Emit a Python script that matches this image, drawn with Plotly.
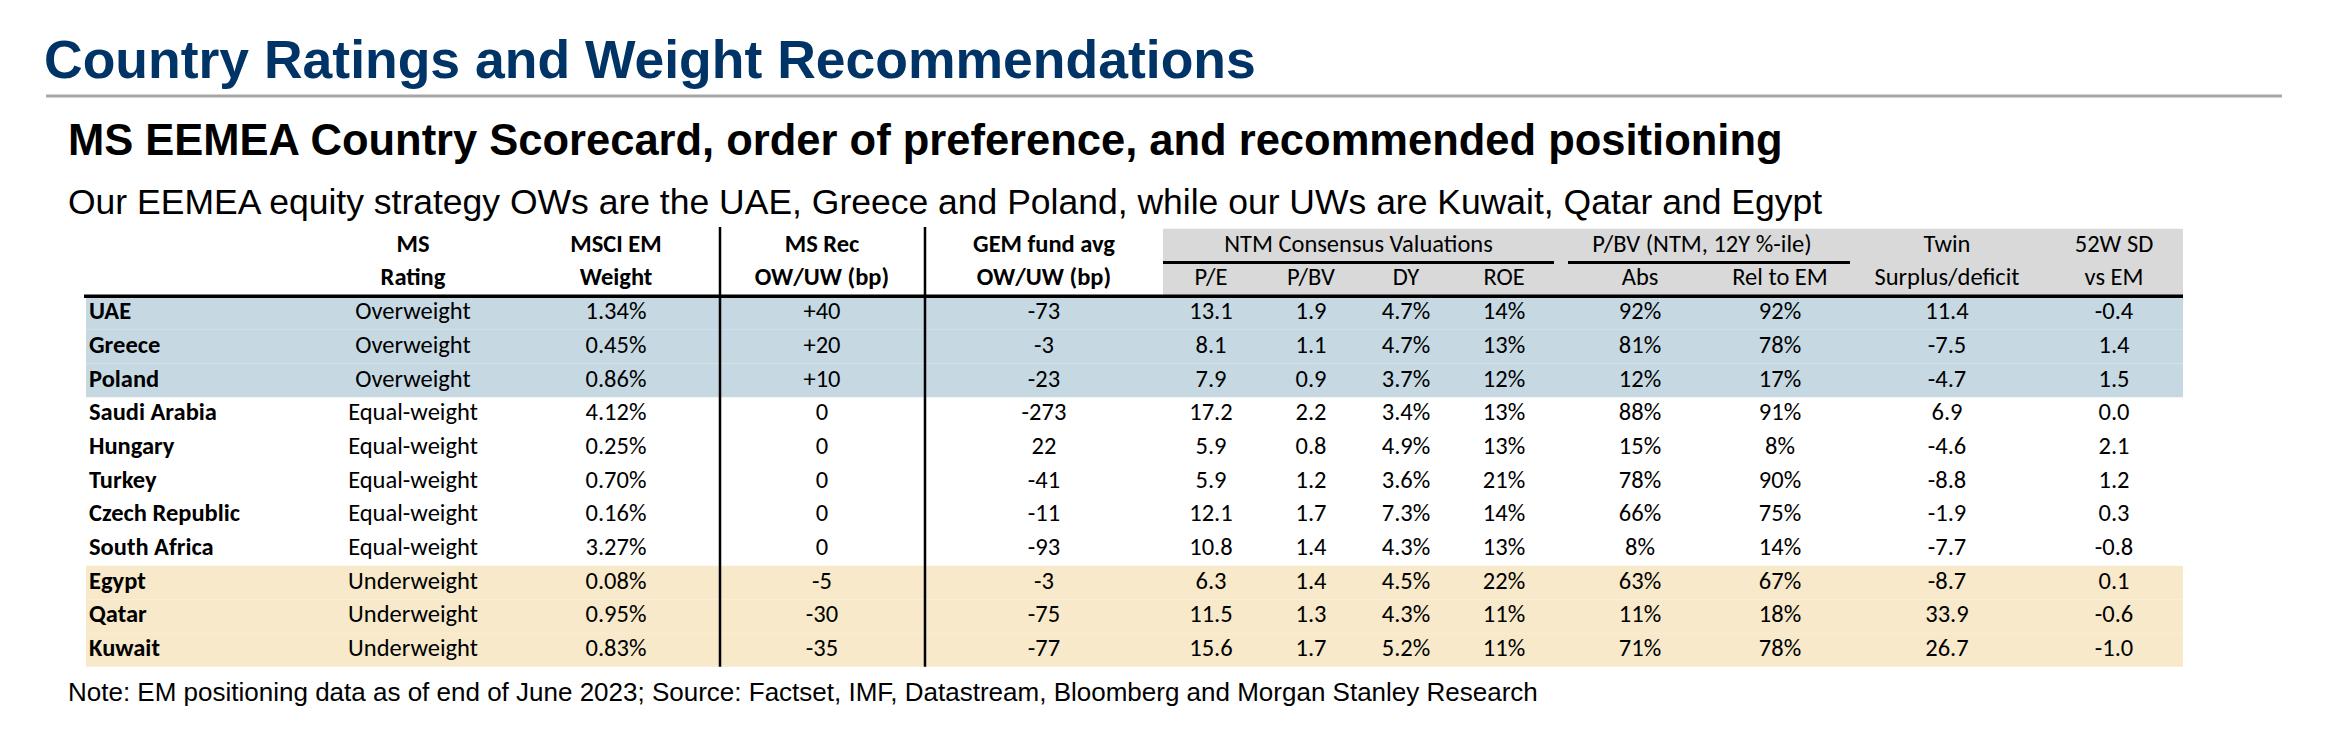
import plotly.graph_objects as go

# ---------------- data ----------------
countries = ["UAE", "Greece", "Poland", "Saudi Arabia", "Hungary", "Turkey",
             "Czech Republic", "South Africa", "Egypt", "Qatar", "Kuwait"]
ratings = ["Overweight", "Overweight", "Overweight", "Equal-weight", "Equal-weight",
           "Equal-weight", "Equal-weight", "Equal-weight", "Underweight", "Underweight",
           "Underweight"]
msci_weight = [1.34, 0.45, 0.86, 4.12, 0.25, 0.70, 0.16, 3.27, 0.08, 0.95, 0.83]
ms_rec_bp = [40, 20, 10, 0, 0, 0, 0, 0, -5, -30, -35]
gem_fund_bp = [-73, -3, -23, -273, 22, -41, -11, -93, -3, -75, -77]
pe = [13.1, 8.1, 7.9, 17.2, 5.9, 5.9, 12.1, 10.8, 6.3, 11.5, 15.6]
pbv = [1.9, 1.1, 0.9, 2.2, 0.8, 1.2, 1.7, 1.4, 1.4, 1.3, 1.7]
dy = [4.7, 4.7, 3.7, 3.4, 4.9, 3.6, 7.3, 4.3, 4.5, 4.3, 5.2]
roe = [14, 13, 12, 13, 13, 21, 14, 13, 22, 11, 11]
pbv_pct_abs = [92, 81, 12, 88, 15, 78, 66, 8, 63, 11, 71]
pbv_pct_rel = [92, 78, 17, 91, 8, 90, 75, 14, 67, 18, 78]
twin_balance = [11.4, -7.5, -4.7, 6.9, -4.6, -8.8, -1.9, -7.7, -8.7, 33.9, 26.7]
sd_52w = [-0.4, 1.4, 1.5, 0.0, 2.1, 1.2, 0.3, -0.8, 0.1, -0.6, -1.0]

header_top = ["", "MS", "MSCI EM", "MS Rec", "GEM fund avg", "", "", "", "", "", "",
              "Twin", "52W SD"]
header_bottom = ["", "Rating", "Weight", "OW/UW (bp)", "OW/UW (bp)", "P/E", "P/BV", "DY",
                 "ROE", "Abs", "Rel to EM", "Surplus/deficit", "vs EM"]
group_headers = ["NTM Consensus Valuations", "P/BV (NTM, 12Y %-ile)"]
group_spans = [(5, 8), (9, 10)]

title = "Country Ratings and Weight Recommendations"
subtitle = "MS EEMEA Country Scorecard, order of preference, and recommended positioning"
lead = ("Our EEMEA equity strategy OWs are the UAE, Greece and Poland, while our UWs "
        "are Kuwait, Qatar and Egypt")
note = ("Note: EM positioning data as of end of June 2023; Source: Factset, IMF, "
        "Datastream, Bloomberg and Morgan Stanley Research")

# ---------------- layout / style ----------------
W, H = 2331, 733
ROW0_PX, ROW_PITCH = 313.0, 33.7
col_edges = [84, 300, 520, 720, 925, 1163, 1261, 1358, 1455, 1554, 1710, 1850, 2045, 2183]
col_centers = [89, 413, 616, 822, 1044, 1211, 1311, 1406, 1504, 1640, 1780, 1947, 2114]
TABLE_FONT = "Calibri, Carlito, Lato, sans-serif"
TITLE_FONT = "Arial, 'Liberation Sans', sans-serif"
BLUE_BAND = "#C6D9E3"
BEIGE_BAND = "#F7E9CA"
HEADER_GRAY = "#D9D9D9"
TITLE_BLUE = "#003366"
FS = 24.5

n = len(countries)


def fmt_pct(v, d):
    return f"{v:.{d}f}%"


def fmt_bp(v):
    return "0" if v == 0 else f"{v:+d}"


columns = [
    countries,
    ratings,
    [fmt_pct(v, 2) for v in msci_weight],
    [fmt_bp(v) for v in ms_rec_bp],
    [str(v) for v in gem_fund_bp],
    [f"{v:.1f}" for v in pe],
    [f"{v:.1f}" for v in pbv],
    [fmt_pct(v, 1) for v in dy],
    [fmt_pct(v, 0) for v in roe],
    [fmt_pct(v, 0) for v in pbv_pct_abs],
    [fmt_pct(v, 0) for v in pbv_pct_rel],
    [f"{v:.1f}" for v in twin_balance],
    [f"{v:.1f}" for v in sd_52w],
]

fig = go.Figure()
rows = list(range(n))

for ci, col in enumerate(columns):
    txt = [f"<b>{t}</b>" for t in col] if ci == 0 else col
    fig.add_trace(go.Scatter(
        x=[col_centers[ci]] * n, y=rows, mode="text", text=txt,
        textposition="middle right" if ci == 0 else "middle center",
        textfont=dict(family=TABLE_FONT, size=FS, color="#000000"),
        hoverinfo="skip", showlegend=False))

# header rows
for ci in range(1, len(header_top)):
    bold = ci <= 4
    for r, lab in ((-2, header_top[ci]), (-1, header_bottom[ci])):
        if not lab:
            continue
        fig.add_trace(go.Scatter(
            x=[col_centers[ci]], y=[r], mode="text",
            text=[f"<b>{lab}</b>" if bold else lab], textposition="middle center",
            textfont=dict(family=TABLE_FONT, size=FS, color="#000000"),
            hoverinfo="skip", showlegend=False))

for g, (a, b) in zip(group_headers, group_spans):
    fig.add_trace(go.Scatter(
        x=[(col_edges[a] + col_edges[b + 1]) / 2], y=[-2], mode="text", text=[g],
        textposition="middle center",
        textfont=dict(family=TABLE_FONT, size=FS, color="#000000"),
        hoverinfo="skip", showlegend=False))

shapes = []
# rating bands
band_color = {"Overweight": BLUE_BAND, "Underweight": BEIGE_BAND}
for i, rt in enumerate(ratings):
    if rt in band_color:
        shapes.append(dict(type="rect", xref="x", yref="y", x0=col_edges[0] + 2,
                           x1=col_edges[-1], y0=i - 0.5, y1=i + 0.5,
                           fillcolor=band_color[rt], line=dict(width=0), layer="below"))
# gray header area
shapes.append(dict(type="rect", xref="x", yref="y", x0=col_edges[5], x1=col_edges[-1],
                   y0=-2.5, y1=-0.5, fillcolor=HEADER_GRAY, line=dict(width=0),
                   layer="below"))
# group underlines
for k, (a, b) in enumerate(group_spans):
    x0 = col_edges[a] + (14 if k > 0 else 0)
    shapes.append(dict(type="line", xref="x", yref="y", x0=x0, x1=col_edges[b + 1],
                       y0=-1.5, y1=-1.5, line=dict(color="#000000", width=3)))
# header rule
shapes.append(dict(type="line", xref="x", yref="y", x0=col_edges[0], x1=col_edges[-1],
                   y0=-0.5, y1=-0.5, line=dict(color="#000000", width=3.5)))
# vertical separators
for e in (col_edges[3], col_edges[4]):
    shapes.append(dict(type="line", xref="x", yref="y", x0=e, x1=e, y0=-2.55,
                       y1=n - 0.5, line=dict(color="#000000", width=2.5)))
# gray title rule
shapes.append(dict(type="line", xref="paper", yref="paper", x0=46 / W, x1=2282 / W,
                   y0=1 - 96 / H, y1=1 - 96 / H, line=dict(color="#A6A6A6", width=3)))


def ann(text, x_px, y_px, size, color="#000000", bold=False):
    return dict(text=f"<b>{text}</b>" if bold else text, xref="paper", yref="paper",
                x=x_px / W, y=1 - y_px / H, xanchor="left", yanchor="middle",
                showarrow=False, font=dict(family=TITLE_FONT, size=size, color=color))


annotations = [
    ann(title, 42, 60, 53.5, TITLE_BLUE, True),
    ann(subtitle, 66, 140, 43.5, bold=True),
    ann(lead, 66, 202, 35.5),
    ann(note, 66, 692, 26),
]

y_top = -ROW0_PX / ROW_PITCH
y_bot = (H - ROW0_PX) / ROW_PITCH

fig.update_layout(
    width=W, height=H, margin=dict(l=0, r=0, t=0, b=0),
    paper_bgcolor="white", plot_bgcolor="white",
    xaxis=dict(range=[0, W], visible=False, fixedrange=True),
    yaxis=dict(range=[y_bot, y_top], visible=False, fixedrange=True),
    shapes=shapes, annotations=annotations, showlegend=False, hovermode=False,
)

fig.write_html("out.html", config={"displayModeBar": False},
               post_script="document.body.style.margin='0';")
